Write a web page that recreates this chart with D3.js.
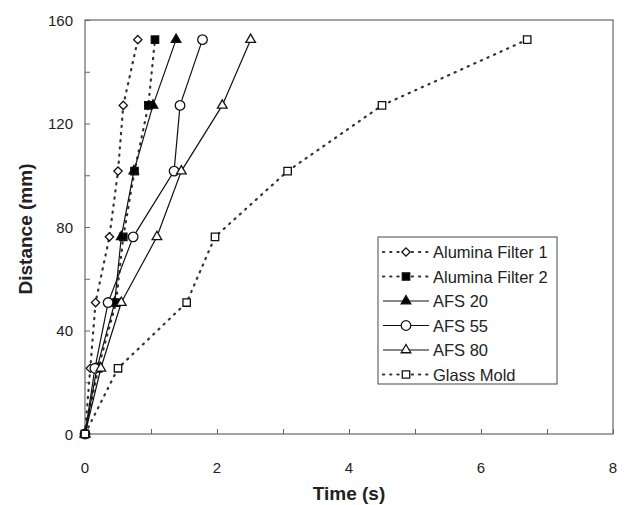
<!DOCTYPE html>
<html>
<head>
<meta charset="utf-8">
<script src="https://cdn.jsdelivr.net/npm/d3@7"></script>
<style>
  body { margin: 0; background: #fff; }
  text { font-family: "Liberation Sans", Arial, sans-serif; fill: #222; }
</style>
</head>
<body>
<svg id="chart"></svg>
<script>
// distance along the channel, every inch (mm)
var distance = [0, 25.4, 50.8, 76.2, 101.6, 127, 152.4];

var alumina1 = [0, 0.08, 0.16, 0.37, 0.50, 0.58, 0.80];
var alumina2 = [0, 0.20, 0.47, 0.58, 0.75, 0.96, 1.06];
var afs20 = [0, 0.18, 0.45, 0.55, 0.74, 1.03, 1.38];
var afs55 = [0, 0.15, 0.35, 0.73, 1.35, 1.44, 1.78];
var afs80 = [0, 0.24, 0.55, 1.09, 1.46, 2.08, 2.51];
var glassMold = [0, 0.50, 1.54, 1.97, 3.07, 4.50, 6.70];

var seriesNames = ["Alumina Filter 1", "Alumina Filter 2", "AFS 20", "AFS 55", "AFS 80", "Glass Mold"];
var xTicks = [0, 2, 4, 6, 8];
var yTicks = [0, 40, 80, 120, 160];

var series = [
  {name: seriesNames[0], values: alumina1, marker: "diamond", filled: false, dotted: true},
  {name: seriesNames[1], values: alumina2, marker: "square", filled: true, dotted: true},
  {name: seriesNames[2], values: afs20, marker: "triangle", filled: true, dotted: false},
  {name: seriesNames[3], values: afs55, marker: "circle", filled: false, dotted: false},
  {name: seriesNames[4], values: afs80, marker: "triangle", filled: false, dotted: false},
  {name: seriesNames[5], values: glassMold, marker: "square", filled: false, dotted: true}
];

var width = 625, height = 505;
var margin = {top: 20, right: 12, bottom: 71, left: 85};

var svg = d3.select("#chart").attr("width", width).attr("height", height);

var x = d3.scaleLinear().domain([0, 8]).range([margin.left, width - margin.right]);
var y = d3.scaleLinear().domain([0, 160]).range([height - margin.bottom, margin.top]);

var frameColor = "#666";

// inward ticks (major + minor)
var xAxis = svg.append("g")
  .attr("transform", "translate(0," + y(0) + ")")
  .call(d3.axisBottom(x).tickValues(d3.range(0, 9, 1)).tickSize(-5).tickFormat(""));
var yAxis = svg.append("g")
  .attr("transform", "translate(" + x(0) + ",0)")
  .call(d3.axisLeft(y).tickValues(d3.range(0, 161, 20)).tickSize(-5).tickFormat(""));
[xAxis, yAxis].forEach(function (g) {
  g.select(".domain").remove();
  g.selectAll("line").attr("stroke", frameColor);
});

// frame
svg.append("rect")
  .attr("x", x(0)).attr("y", y(160))
  .attr("width", x(8) - x(0)).attr("height", y(0) - y(160))
  .attr("fill", "none").attr("stroke", frameColor).attr("stroke-width", 1.2);

// tick labels
svg.append("g").selectAll("text")
  .data(xTicks).enter().append("text")
  .attr("x", function (d) { return x(d); })
  .attr("y", y(0) + 39)
  .attr("text-anchor", "middle")
  .style("font-size", "15px")
  .text(function (d) { return d; });

svg.append("g").selectAll("text")
  .data(yTicks).enter().append("text")
  .attr("x", x(0) - 12)
  .attr("y", function (d) { return y(d) + 5.5; })
  .attr("text-anchor", "end")
  .style("font-size", "15px")
  .text(function (d) { return d; });

// axis titles
svg.append("text")
  .attr("x", (x(0) + x(8)) / 2)
  .attr("y", 500)
  .attr("text-anchor", "middle")
  .style("font-size", "19px").style("font-weight", "bold")
  .text("Time (s)");

svg.append("text")
  .attr("transform", "translate(32," + (y(80) + 2) + ") rotate(-90)")
  .attr("text-anchor", "middle")
  .style("font-size", "19px").style("font-weight", "bold")
  .text("Distance (mm)");

function markerPath(kind) {
  if (kind === "diamond") return d3.symbol().type(d3.symbolDiamond2).size(44)();
  if (kind === "square") return d3.symbol().type(d3.symbolSquare2).size(70)();
  if (kind === "triangle") return d3.symbol().type(d3.symbolTriangle2).size(66)();
  return d3.symbol().type(d3.symbolCircle).size(72)();
}

function styleLine(sel, s) {
  sel.attr("fill", "none")
    .attr("stroke", s.dotted ? "#333" : "#111")
    .attr("stroke-width", s.dotted ? 2.2 : 1.2)
    .attr("stroke-dasharray", s.dotted ? "1.2,6" : null)
    .attr("stroke-linecap", s.dotted ? "round" : "butt");
}

function styleMarker(sel, s) {
  sel.attr("d", markerPath(s.marker))
    .attr("fill", s.filled ? "#000" : "#fff")
    .attr("stroke", "#111")
    .attr("stroke-width", 1.3);
}

var line = d3.line()
  .x(function (d) { return x(d[0]); })
  .y(function (d) { return y(d[1]); });

var plot = svg.append("g");

series.forEach(function (s) {
  var pts = s.values.map(function (v, i) { return [v, distance[i]]; });
  plot.append("path").datum(pts).attr("d", line).call(styleLine, s);
});

series.forEach(function (s) {
  var pts = s.values.map(function (v, i) { return [v, distance[i]]; });
  plot.append("g").selectAll("path")
    .data(pts).enter().append("path")
    .attr("transform", function (d) { return "translate(" + x(d[0]) + "," + y(d[1]) + ")"; })
    .call(styleMarker, s);
});

// legend
var lx = 378, ly = 237, lw = 179, lh = 147, rowH = 24.5;
var legend = svg.append("g");
legend.append("rect")
  .attr("x", lx).attr("y", ly).attr("width", lw).attr("height", lh)
  .attr("fill", "#fff").attr("stroke", frameColor).attr("stroke-width", 1.2);

series.forEach(function (s, i) {
  var cy = ly + 15 + i * rowH;
  var row = legend.append("g");
  row.append("path").attr("d", "M" + (lx + 5) + "," + cy + "H" + (lx + 51)).call(styleLine, s);
  row.append("path")
    .attr("transform", "translate(" + (lx + 28) + "," + cy + ")")
    .call(styleMarker, s);
  row.append("text")
    .attr("x", lx + 55).attr("y", cy + 6)
    .style("font-size", "16.5px")
    .text(s.name);
});
</script>
</body>
</html>
